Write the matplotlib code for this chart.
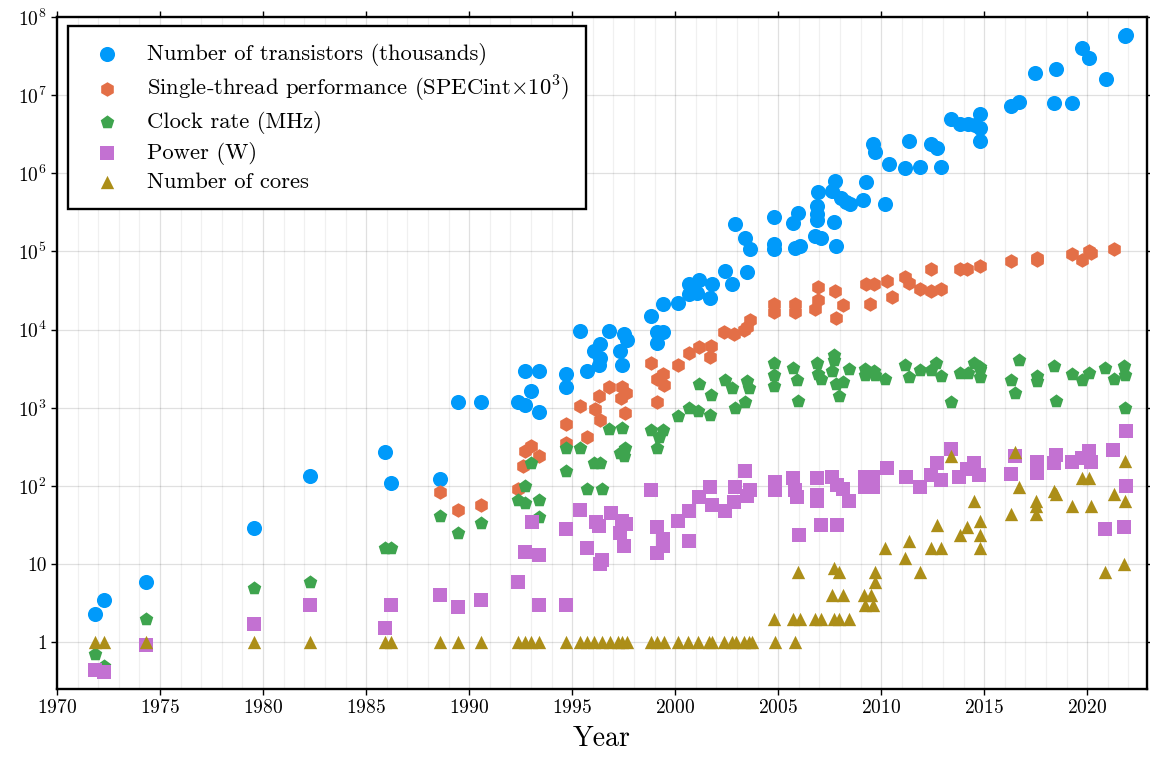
import numpy as np
import matplotlib
matplotlib.use("Agg")
import matplotlib.pyplot as plt
from matplotlib.ticker import FuncFormatter, FixedLocator, MultipleLocator

plt.rcParams['font.family'] = 'serif'
plt.rcParams['font.serif'] = ['cmr10']
plt.rcParams['mathtext.fontset'] = 'cm'
plt.rcParams['axes.unicode_minus'] = False
plt.rcParams['axes.formatter.use_mathtext'] = True

# transistor count (thousands)
tr_year = [1971.86, 1972.3, 1974.3, 1979.57, 1982.3, 1985.9, 1986.2, 1988.6, 1989.45, 1990.56,
           1992.36, 1992.69, 1992.69, 1993.0, 1993.4, 1993.4, 1994.69, 1994.69, 1995.4, 1995.7,
           1996.05, 1996.34, 1996.34, 1996.3, 1996.8, 1997.3, 1997.5, 1997.64, 1997.44, 1998.85,
           1999.1, 1999.4, 1999.14, 1999.42, 2000.15, 2000.66, 2000.66, 2001.14, 2001.06, 2001.8,
           2001.68, 2002.4, 2002.76, 2003.5, 2002.88, 2003.38, 2003.62, 2004.79, 2004.79, 2004.79,
           2005.71, 2005.96, 2005.8, 2006.04, 2006.86, 2006.9, 2006.9, 2006.94, 2006.8, 2007.1,
           2007.76, 2007.63, 2008.03, 2008.27, 2008.48, 2007.7, 2007.8, 2009.25, 2009.13, 2010.17,
           2009.6, 2009.68, 2010.37, 2011.16, 2011.33, 2011.9, 2012.4, 2012.7, 2012.88, 2013.4,
           2013.8, 2014.2, 2014.53, 2014.8, 2014.8, 2014.8, 2016.3, 2016.68, 2017.48, 2018.46,
           2018.4, 2019.26, 2019.76, 2020.07, 2020.89, 2021.84, 2021.9]
tr_val = [2.3, 3.5, 6, 29, 134, 275, 110, 123, 1200, 1200,
          1180, 1080, 3000, 1660, 3000, 890, 2750, 1860, 9600, 3000,
          5400, 6600, 4400, 3550, 9600, 5400, 8700, 7400, 3500, 15000,
          9400, 9400, 6700, 21000, 22000, 38000, 29000, 43000, 29500, 38000,
          25600, 56000, 38000, 54000, 224000, 151000, 107000, 278000, 124000, 108000,
          233000, 310000, 112000, 117000, 380000, 300000, 250000, 580000, 158000, 151000,
          800000, 600000, 490000, 435000, 410000, 235000, 116000, 780000, 460000, 410000,
          2350000, 1900000, 1320000, 1160000, 2600000, 1200000, 2400000, 2100000, 1200000, 5000000,
          4300000, 4300000, 4200000, 5700000, 3850000, 2600000, 7200000, 8100000, 19300000, 21400000,
          8000000, 8000000, 39600000, 30000000, 16200000, 57000000, 58000000]

# single-thread performance (SPECint x 1000)
sp_year = [1988.6, 1989.45, 1990.6, 1992.36, 1992.6, 1992.69, 1993.0, 1993.4, 1994.72, 1994.72,
           1995.4, 1995.7, 1996.12, 1996.3, 1996.34, 1996.8, 1997.43, 1997.6, 1997.35, 1997.56,
           1998.85, 1999.4, 1999.1, 1999.45, 1999.14, 2000.15, 2000.66, 2001.14, 2001.74, 2001.68,
           2002.36, 2002.84, 2003.33, 2003.5, 2003.65, 2004.79, 2004.79, 2005.8, 2005.8, 2006.94,
           2006.94, 2006.8, 2007.76, 2008.14, 2007.8, 2009.25, 2009.65, 2009.46, 2010.27, 2010.5,
           2011.16, 2011.33, 2011.9, 2012.4, 2012.4, 2012.88, 2013.8, 2014.17, 2014.8, 2016.3,
           2017.56, 2017.56, 2019.27, 2019.76, 2020.1, 2020.2, 2021.3]
sp_val = [84, 50, 57, 93, 180, 280, 330, 245, 620, 360,
          1050, 425, 980, 1400, 690, 1850, 1850, 1540, 1320, 850,
          3700, 2750, 2360, 1940, 1180, 3540, 5000, 6000, 6200, 4500,
          9300, 8900, 10000, 10800, 13200, 21000, 17000, 21500, 17000, 35500,
          24000, 18600, 31500, 20700, 14000, 38000, 38000, 21000, 42000, 26000,
          47000, 39000, 33000, 59500, 31000, 33000, 59000, 59000, 66000, 74500,
          83000, 78000, 93000, 78000, 100000, 96000, 107000]

# clock rate (MHz)
ck_year = [1971.86, 1972.3, 1974.32, 1979.57, 1982.3, 1985.9, 1986.2, 1988.6, 1989.45, 1990.56,
           1992.36, 1992.69, 1992.69, 1993.4, 1993.0, 1993.4, 1994.69, 1994.69, 1995.4, 1995.7,
           1996.05, 1996.34, 1996.43, 1996.8, 1997.43, 1997.56, 1997.3, 1997.5, 1998.82, 1999.4,
           1999.2, 1999.1, 2000.15, 2000.66, 2001.1, 2001.68, 2001.18, 2001.76, 2002.4, 2002.76,
           2002.88, 2003.38, 2003.5, 2003.57, 2004.79, 2004.79, 2004.79, 2005.7, 2005.92, 2005.96,
           2006.86, 2006.94, 2007.06, 2007.7, 2007.7, 2007.62, 2007.8, 2008.14, 2007.97, 2008.44,
           2009.2, 2009.65, 2009.2, 2009.68, 2010.2, 2011.16, 2011.33, 2011.9, 2012.43, 2012.67,
           2012.92, 2013.4, 2013.8, 2014.2, 2014.5, 2014.8, 2014.8, 2014.8, 2016.3, 2016.67,
           2016.5, 2017.56, 2017.56, 2018.38, 2018.5, 2019.27, 2019.76, 2020.1, 2020.87, 2021.3,
           2021.78, 2021.85, 2021.85]
ck_val = [0.71, 0.5, 2.0, 5, 6, 16, 16, 41, 25, 34,
          66, 60, 100, 67, 200, 40, 310, 155, 310, 93,
          200, 200, 93, 540, 555, 310, 265, 240, 520, 525,
          420, 310, 780, 1000, 920, 810, 2000, 1440, 2250, 1820,
          1000, 1200, 2200, 1800, 3700, 2650, 1900, 3200, 2250, 1230,
          3760, 2750, 2350, 4700, 4050, 2970, 2040, 2150, 1430, 3100,
          3100, 3000, 2650, 2600, 2350, 3550, 2500, 3050, 3050, 3800,
          2560, 1200, 2800, 2800, 3800, 3300, 3100, 2450, 2240, 4050,
          1540, 2200, 2580, 3450, 1230, 2750, 2290, 2800, 3270, 2330,
          3400, 2630, 1000]

# typical power (W)
pw_year = [1971.86, 1972.3, 1974.32, 1979.57, 1982.3, 1985.9, 1986.2, 1988.6, 1989.45, 1990.56,
           1992.38, 1992.69, 1993.03, 1993.37, 1993.37, 1994.69, 1994.69, 1995.4, 1995.7, 1996.15,
           1996.28, 1996.43, 1996.35, 1996.87, 1997.4, 1997.6, 1997.3, 1997.5, 1998.85, 1999.14,
           1999.4, 1999.4, 1999.14, 2000.15, 2000.66, 2000.66, 2001.14, 2001.68, 2001.79, 2002.4,
           2002.84, 2002.88, 2003.4, 2003.62, 2003.5, 2004.84, 2004.84, 2005.71, 2005.8, 2005.92,
           2006.02, 2006.86, 2006.9, 2006.9, 2007.06, 2007.63, 2007.87, 2007.87, 2008.16, 2008.44,
           2009.2, 2009.6, 2009.2, 2009.6, 2010.3, 2011.2, 2011.9, 2012.4, 2012.7, 2012.9,
           2013.4, 2013.77, 2014.16, 2014.5, 2014.77, 2016.3, 2016.5, 2017.56, 2017.56, 2017.56,
           2018.38, 2018.46, 2019.27, 2019.76, 2020.1, 2020.2, 2020.87, 2021.26, 2021.9, 2021.9,
           2021.78]
pw_val = [0.45, 0.42, 0.93, 1.7, 3, 1.55, 3, 4, 2.8, 3.5,
          6, 14.5, 35, 13, 3, 28, 3, 50, 16, 35,
          31, 11.5, 10, 45, 36, 33, 25, 17, 90, 30,
          21, 17, 14, 36, 20, 48, 73, 98, 58, 48,
          63, 98, 157, 89, 75, 112, 89, 125, 89, 73,
          24, 125, 77, 65, 32, 130, 32, 103, 93, 65,
          130, 130, 96, 96, 170, 132, 96, 138, 200, 118,
          300, 132, 163, 200, 138, 143, 245, 205, 172, 145,
          200, 250, 205, 226, 282, 205, 28, 290, 500, 100,
          30]

# logical cores
co_year = [1971.86, 1972.3, 1974.32, 1979.57, 1982.3, 1985.9, 1986.2, 1988.6, 1989.45, 1990.56,
           1992.36, 1992.69, 1993.0, 1993.4, 1994.7, 1995.4, 1995.7, 1996.05, 1996.43, 1996.83,
           1997.23, 1997.43, 1997.64, 1998.85, 1999.14, 1999.45, 2000.15, 2000.63, 2001.1, 2001.63,
           2001.8, 2002.36, 2002.76, 2002.93, 2003.33, 2003.57, 2003.73, 2004.84, 2005.81,
           2004.79, 2005.71, 2006.04, 2006.78, 2007.06, 2007.7, 2007.94, 2008.44,
           2005.96, 2007.63, 2008.16, 2007.7, 2007.95, 2009.17, 2009.5, 2009.2, 2009.6, 2009.68,
           2009.68, 2010.17, 2011.16, 2011.33, 2011.9, 2012.4, 2012.88, 2012.7, 2013.4, 2013.8,
           2014.17, 2014.5, 2014.8, 2014.8, 2014.8, 2016.3, 2016.67, 2016.47, 2017.5, 2017.5,
           2017.5, 2018.4, 2018.46, 2019.27, 2019.74, 2020.07, 2020.17, 2020.87, 2021.3, 2021.85,
           2021.85, 2021.78]
co_val = [1, 1, 1, 1, 1, 1, 1, 1, 1, 1,
          1, 1, 1, 1, 1, 1, 1, 1, 1, 1,
          1, 1, 1, 1, 1, 1, 1, 1, 1, 1,
          1, 1, 1, 1, 1, 1, 1, 1, 1,
          2, 2, 2, 2, 2, 2, 2, 2,
          8, 4, 4, 9, 8, 4, 4, 3, 3, 8,
          6, 16, 12, 20, 8, 16, 16, 32, 240, 24,
          30, 64, 36, 24, 16, 44, 96, 270, 64, 56,
          44, 87, 80, 56, 128, 128, 56, 8, 80, 210,
          64, 10]

labels = ['Number of transistors (thousands)',
          r'Single-thread performance (SPECint$\times10^3$)',
          'Clock rate (MHz)',
          'Power (W)',
          'Number of cores']

fig = plt.figure(figsize=(11.5, 7.62), dpi=100)
ax = fig.add_axes([0.0496, 0.0958, 0.9478, 0.882])

series = [
    (tr_year, tr_val, '#009AFA', 'o', 118),
    (sp_year, sp_val, '#E36F47', 'h', 110),
    (ck_year, ck_val, '#3EA44E', 'p', 105),
    (pw_year, pw_val, '#C371D2', 's', 92),
    (co_year, co_val, '#AC8E18', '^', 92),
]
for (xs, ys, col, mk, sz), lab in zip(series, labels):
    ax.scatter(xs, ys, s=sz, c=col, marker=mk, linewidths=0, label=lab, zorder=3)

ax.set_yscale('log')
ax.set_xlim(1970, 2022.9)
ax.set_ylim(0.254, 1e8)

ax.xaxis.set_major_locator(MultipleLocator(5))
ax.xaxis.set_minor_locator(MultipleLocator(1))
ax.yaxis.set_major_locator(FixedLocator([10.0 ** k for k in range(0, 9)]))
ax.yaxis.set_minor_locator(FixedLocator([]))


def ylab(v, pos):
    k = int(round(np.log10(v)))
    if k == 0:
        return '1'
    if k == 1:
        return '10'
    return r'$10^{%d}$' % k


ax.yaxis.set_major_formatter(FuncFormatter(ylab))

ax.grid(True, which='major', color='black', alpha=0.12, linewidth=0.9)
ax.grid(True, which='minor', axis='x', color='black', alpha=0.06, linewidth=0.9)
ax.set_axisbelow(True)

for sp in ax.spines.values():
    sp.set_linewidth(1.7)
ax.tick_params(which='major', direction='out', length=4, width=1,
               top=True, right=True, labelsize=14)
ax.tick_params(which='minor', length=0)

ax.set_xlabel('Year', fontsize=20, labelpad=6)

leg = ax.legend(loc='upper left', bbox_to_anchor=(0.0105, 0.986), borderaxespad=0,
                fontsize=16.3, frameon=True, fancybox=False, framealpha=1,
                edgecolor='black', scatterpoints=1, borderpad=0.75,
                handlelength=1.86, handletextpad=0.84, labelspacing=0.33)
leg.get_frame().set_linewidth(1.7)

fig.savefig('out.png', dpi=100)
